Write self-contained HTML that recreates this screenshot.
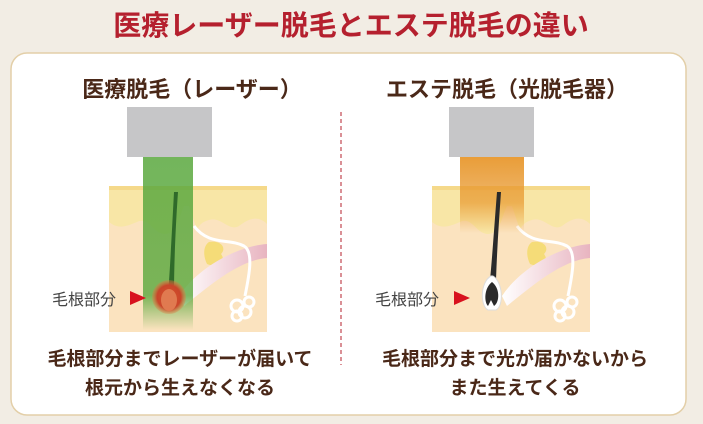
<!DOCTYPE html>
<html><head><meta charset="utf-8"><style>
body{margin:0;width:703px;height:424px;background:#f2ede4;overflow:hidden;font-family:"Liberation Sans","Noto Sans CJK JP",sans-serif}
</style></head><body>
<svg width="703" height="424" viewBox="0 0 703 424" xmlns="http://www.w3.org/2000/svg" font-family="Liberation Sans, Noto Sans CJK JP, sans-serif" style="display:block">
<defs>
<linearGradient id="g" x1="0" y1="0" x2="0" y2="1"><stop offset="0" stop-color="#5aa83e" stop-opacity=".85"/><stop offset=".8" stop-color="#5aa83e" stop-opacity=".8"/><stop offset="1" stop-color="#5aa83e" stop-opacity="0"/></linearGradient>
<linearGradient id="o" x1="0" y1="0" x2="0" y2="1"><stop offset="0" stop-color="#e8982e" stop-opacity=".95"/><stop offset=".6" stop-color="#e8982e" stop-opacity=".7"/><stop offset="1" stop-color="#e8982e" stop-opacity="0"/></linearGradient>
<linearGradient id="p" x1="0" y1="0" x2="1" y2="0"><stop offset="0" stop-color="#fff" /><stop offset="1" stop-color="#e8b4c0"/></linearGradient>
<radialGradient id="r"><stop offset="0" stop-color="#d9542a"/><stop offset=".7" stop-color="#c9452a"/><stop offset="1" stop-color="#e07a40" stop-opacity=".3"/></radialGradient>
<g id="skin">
<rect x="0" y="0" width="158" height="146" fill="#fbe3bf"/>
<rect x="0" y="0" width="158" height="4" fill="#f5d98a"/>
<path d="M0 4 H158 V38 C148 28 138 34 130 40 C120 46 112 30 100 34 C92 36 90 40 88 44 L80 20 L75 20 C70 30 68 48 56 48 C44 48 40 30 28 36 C18 40 10 44 0 36 Z" fill="#f8e6a6"/>
<path d="M100 56 C112 54 118 62 112 68 C118 76 108 82 98 78 C94 70 94 60 100 56Z" fill="#f5dc78"/>
<path d="M70 110 C90 80 130 60 158 58 L158 72 C130 74 100 100 75 120 Z" fill="url(#p)"/>
<path d="M85 40 C100 60 120 52 135 60 C145 66 140 90 136 110" fill="none" stroke="#fff" stroke-width="3"/>
<g fill="none" stroke="#fff" stroke-width="3"><circle cx="128" cy="120" r="6"/><circle cx="136" cy="126" r="6"/><circle cx="128" cy="130" r="5"/><circle cx="140" cy="116" r="5"/></g>
</g>
</defs>
<text x="351" y="35" text-anchor="middle" font-size="28" font-weight="bold" fill="#b5202e">医療レーザー脱毛とエステ脱毛の違い</text>
<rect x="11" y="53" width="675" height="362" rx="16" fill="#fff" stroke="#e3cfa8" stroke-width="1.5"/>
<text x="192" y="97" text-anchor="middle" font-size="22" font-weight="bold" fill="#4a2818">医療脱毛（レーザー）</text>
<text x="507" y="97" text-anchor="middle" font-size="22" font-weight="bold" fill="#4a2818">エステ脱毛（光脱毛器）</text>
<line x1="341" y1="112" x2="341" y2="365" stroke="#b5202e" stroke-dasharray="4,3" stroke-width="1"/>
<use href="#skin" x="109" y="186"/>
<use href="#skin" x="432" y="186"/>
<rect x="127" y="107" width="85" height="50" fill="#c6c6c8"/>
<rect x="449" y="107" width="85" height="50" fill="#c6c6c8"/>
<rect x="143" y="157" width="50" height="173" fill="url(#g)"/>
<rect x="460" y="157" width="64" height="76" fill="url(#o)"/>
<path d="M174 192 C172 230 170 270 168 295 L174 295 C174 260 176 220 178 192Z" fill="#2f6a2a"/>
<circle cx="169" cy="297" r="17" fill="url(#r)"/>
<ellipse cx="169" cy="300" rx="8" ry="11" fill="#e07a50"/>
<path d="M497 192 C494 230 492 260 490 280 L496 280 C497 250 499 220 501 192Z" fill="#2a2a2a"/>
<path d="M491 276 C480 282 480 306 488 310 L496 310 C504 306 503 282 493 276Z" fill="#fff" stroke="#ddd"/>
<path d="M492 282 C484 288 484 302 488 306 L491 300 L494 306 C500 302 500 288 492 282Z" fill="#2a2a2a"/>
<text x="52" y="305" font-size="16" fill="#444">毛根部分</text>
<path d="M130 291 L146 298 L130 305Z" fill="#d8121e"/>
<text x="375" y="305" font-size="16" fill="#444">毛根部分</text>
<path d="M454 291 L470 298 L454 305Z" fill="#d8121e"/>
<g font-size="19" font-weight="bold" fill="#4a2818" text-anchor="middle">
<text x="180" y="365">毛根部分までレーザーが届いて</text>
<text x="180" y="394">根元から生えなくなる</text>
<text x="515" y="365">毛根部分まで光が届かないから</text>
<text x="515" y="394">また生えてくる</text>
</g>
</svg>
</body></html>
